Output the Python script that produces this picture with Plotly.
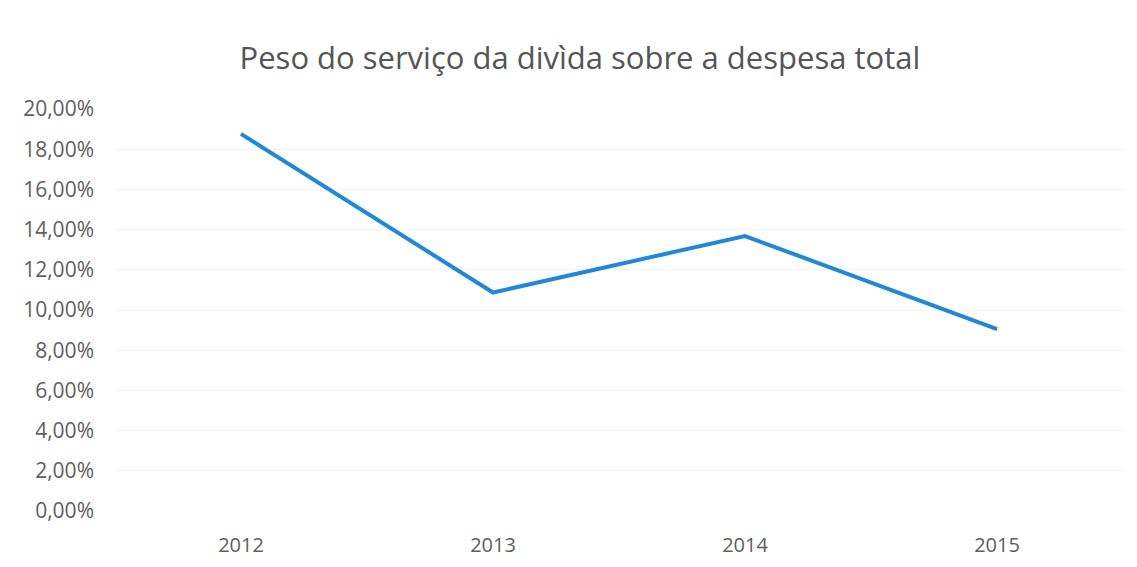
import plotly.graph_objects as go

years = ["2012", "2013", "2014", "2015"]
peso = [0.1876, 0.1087, 0.1368, 0.0905]
y_ticks = [0, 0.02, 0.04, 0.06, 0.08, 0.10, 0.12, 0.14, 0.16, 0.18, 0.20]
title_text = "Peso do serviço da divìda sobre a despesa total"

FONT = "Open Sans, sans-serif"

fig = go.Figure()
fig.add_trace(go.Scatter(
    x=years, y=peso, mode="lines",
    line=dict(color="#2188d8", width=4),
    showlegend=False,
))

fig.update_layout(
    width=1137, height=567,
    paper_bgcolor="white", plot_bgcolor="white",
    separators=",.",
    margin=dict(l=107, r=22, t=101, b=64),
    title=dict(text=title_text, x=0.503, xanchor="center", y=1 - 50 / 567, yanchor="middle",
               font=dict(family=FONT, size=31, color="#555555")),
    font=dict(family=FONT, color="#606060"),
)
fig.update_xaxes(
    type="category", range=[-0.5, 3.5],
    showgrid=False, showline=False, zeroline=False,
    tickfont=dict(size=20, color="#606060"), ticks="", ticklabelstandoff=20,
)
fig.update_yaxes(
    range=[0, 0.20], tickvals=y_ticks, tickformat=".2%",
    showgrid=True, gridcolor="#f4f4f4", gridwidth=1,
    zeroline=False, showline=False,
    tickfont=dict(size=21, color="#606060"), ticks="", ticklabelstandoff=20,
)

fig.write_html("out.html")
